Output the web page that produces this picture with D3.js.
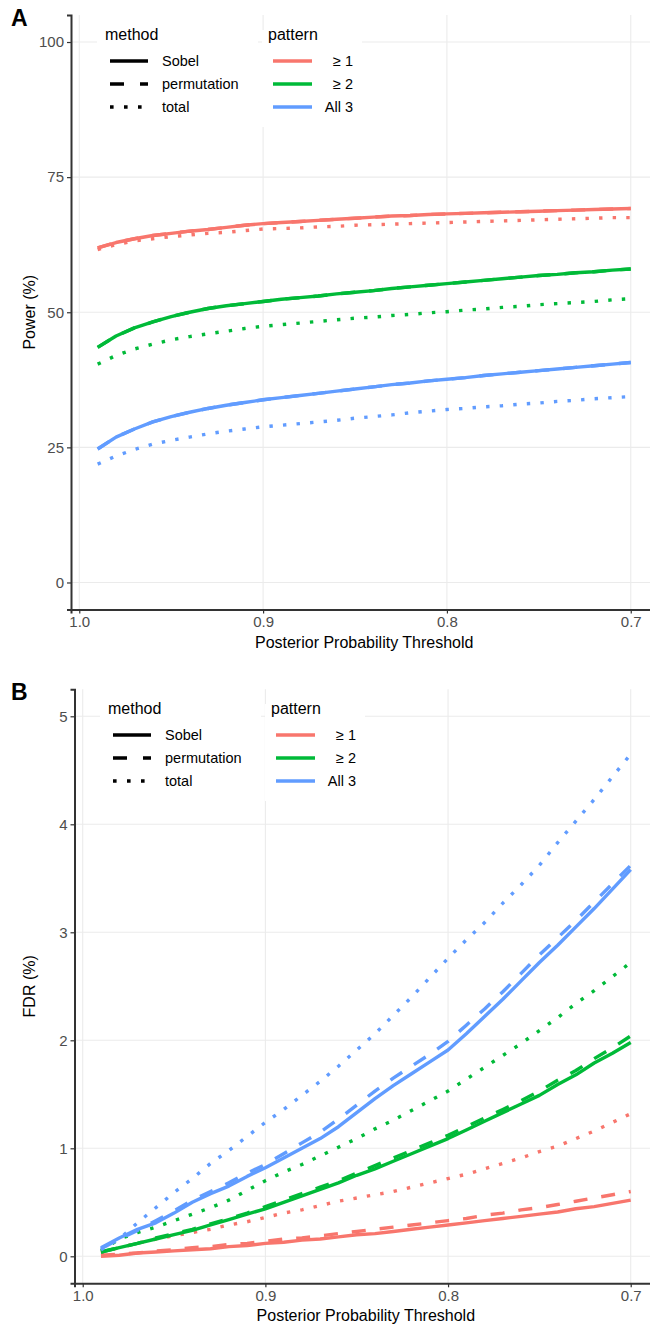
<!DOCTYPE html>
<html lang="en">
<head>
    <meta charset="UTF-8">
    <title>Power and FDR by Posterior Probability Threshold</title>
    <script src="https://d3js.org/d3.v7.min.js"></script>
    <style>
        body { margin: 0; background: #fff; }
        svg { font-family: "Liberation Sans", Arial, sans-serif; display: block; }
        .grid line { stroke: #ebebeb; stroke-width: 1.1; }
        .axis path, .axis line { stroke: #333; }
        .axis text { fill: #4d4d4d; font-size: 15px; }
        .line { fill: none; stroke-width: 3.4; stroke-linecap: butt; stroke-linejoin: round; }
    </style>
</head>
<body>
<div id="chart"></div>
<script>
    // thresholds from 0.99 down to 0.70
    const thresholds = [0.99, 0.98, 0.97, 0.96, 0.95, 0.94, 0.93, 0.92, 0.91, 0.90,
                        0.89, 0.88, 0.87, 0.86, 0.85, 0.84, 0.83, 0.82, 0.81, 0.80,
                        0.79, 0.78, 0.77, 0.76, 0.75, 0.74, 0.73, 0.72, 0.71, 0.70];

    const methods = ["Sobel", "permutation", "total"];
    const patterns = ["\u2265 1", "\u2265 2", "All 3"];
    const patternColors = ["#F8766D", "#00BA38", "#619CFF"];
    const xTicks = [1.0, 0.9, 0.8, 0.7];
    const powerTicks = [0, 25, 50, 75, 100];
    const fdrTicks = [0, 1, 2, 3, 4, 5];

    // Panel A: power (%)
    const powerSobel1 = [61.9, 62.9, 63.6, 64.2, 64.6, 65.0, 65.3, 65.7, 66.1, 66.4, 66.6, 66.8, 67.0, 67.2, 67.4, 67.6, 67.8, 67.9, 68.1, 68.2, 68.3, 68.4, 68.5, 68.6, 68.7, 68.8, 68.9, 69.0, 69.1, 69.2];
    const powerPerm1  = [61.9, 62.9, 63.6, 64.2, 64.6, 65.0, 65.3, 65.7, 66.1, 66.4, 66.6, 66.8, 67.0, 67.2, 67.4, 67.6, 67.8, 67.9, 68.1, 68.2, 68.3, 68.4, 68.5, 68.6, 68.7, 68.8, 68.9, 69.0, 69.1, 69.2];
    const powerTotal1 = [61.6, 62.5, 63.2, 63.6, 64.0, 64.3, 64.6, 64.8, 65.1, 65.4, 65.5, 65.6, 65.8, 65.9, 66.1, 66.2, 66.3, 66.4, 66.5, 66.6, 66.7, 66.8, 66.9, 67.0, 67.1, 67.2, 67.3, 67.4, 67.5, 67.5];
    const powerSobel2 = [43.5, 45.6, 47.1, 48.2, 49.2, 50.0, 50.7, 51.2, 51.6, 52.0, 52.4, 52.7, 53.0, 53.4, 53.7, 54.0, 54.4, 54.7, 55.0, 55.3, 55.6, 55.9, 56.2, 56.5, 56.8, 57.0, 57.3, 57.5, 57.8, 58.0];
    const powerPerm2  = [43.5, 45.6, 47.1, 48.2, 49.2, 50.0, 50.7, 51.2, 51.6, 52.0, 52.4, 52.7, 53.0, 53.4, 53.7, 54.0, 54.4, 54.7, 55.0, 55.3, 55.6, 55.9, 56.2, 56.5, 56.8, 57.0, 57.3, 57.5, 57.8, 58.0];
    const powerTotal2 = [40.4, 42.0, 43.2, 44.1, 44.9, 45.5, 46.0, 46.5, 47.0, 47.4, 47.7, 48.0, 48.3, 48.6, 48.9, 49.1, 49.4, 49.6, 49.9, 50.1, 50.4, 50.6, 50.9, 51.1, 51.4, 51.6, 51.8, 52.0, 52.3, 52.5];
    const powerSobel3 = [24.7, 26.9, 28.4, 29.7, 30.7, 31.5, 32.2, 32.8, 33.3, 33.8, 34.2, 34.6, 35.0, 35.4, 35.8, 36.2, 36.6, 36.9, 37.3, 37.6, 37.9, 38.3, 38.6, 38.9, 39.2, 39.5, 39.8, 40.1, 40.4, 40.7];
    const powerPerm3  = [24.7, 26.9, 28.4, 29.7, 30.7, 31.5, 32.2, 32.8, 33.3, 33.8, 34.2, 34.6, 35.0, 35.4, 35.8, 36.2, 36.6, 36.9, 37.3, 37.6, 37.9, 38.3, 38.6, 38.9, 39.2, 39.5, 39.8, 40.1, 40.4, 40.7];
    const powerTotal3 = [21.9, 23.4, 24.6, 25.6, 26.3, 26.9, 27.5, 28.0, 28.4, 28.8, 29.1, 29.4, 29.7, 30.0, 30.4, 30.7, 31.0, 31.4, 31.7, 32.0, 32.2, 32.5, 32.7, 33.0, 33.2, 33.5, 33.7, 34.0, 34.2, 34.4];

    // Panel B: FDR (%)
    const fdrSobel1 = [0.00, 0.01, 0.03, 0.04, 0.05, 0.06, 0.07, 0.09, 0.10, 0.12, 0.13, 0.15, 0.16, 0.18, 0.20, 0.21, 0.23, 0.25, 0.27, 0.29, 0.31, 0.33, 0.35, 0.37, 0.39, 0.41, 0.44, 0.46, 0.49, 0.52];
    const fdrPerm1  = [0.01, 0.02, 0.03, 0.05, 0.06, 0.08, 0.09, 0.11, 0.12, 0.14, 0.16, 0.17, 0.19, 0.21, 0.23, 0.25, 0.27, 0.29, 0.31, 0.33, 0.35, 0.38, 0.40, 0.43, 0.45, 0.48, 0.51, 0.54, 0.57, 0.60];
    const fdrTotal1 = [0.03, 0.08, 0.12, 0.16, 0.19, 0.22, 0.25, 0.29, 0.32, 0.36, 0.40, 0.43, 0.47, 0.51, 0.54, 0.57, 0.60, 0.64, 0.68, 0.72, 0.76, 0.81, 0.86, 0.91, 0.97, 1.02, 1.09, 1.16, 1.24, 1.32];
    const fdrSobel2 = [0.04, 0.08, 0.12, 0.16, 0.20, 0.24, 0.29, 0.34, 0.39, 0.44, 0.50, 0.56, 0.62, 0.68, 0.75, 0.81, 0.88, 0.95, 1.02, 1.09, 1.17, 1.25, 1.33, 1.41, 1.49, 1.59, 1.68, 1.79, 1.88, 1.98];
    const fdrPerm2  = [0.04, 0.08, 0.12, 0.17, 0.21, 0.25, 0.30, 0.35, 0.40, 0.46, 0.52, 0.58, 0.64, 0.70, 0.77, 0.84, 0.91, 0.98, 1.05, 1.12, 1.20, 1.28, 1.36, 1.44, 1.53, 1.63, 1.72, 1.83, 1.93, 2.04];
    const fdrTotal2 = [0.05, 0.16, 0.22, 0.27, 0.33, 0.39, 0.45, 0.52, 0.61, 0.70, 0.78, 0.85, 0.93, 1.01, 1.09, 1.18, 1.26, 1.35, 1.44, 1.53, 1.64, 1.75, 1.86, 1.97, 2.09, 2.21, 2.34, 2.46, 2.59, 2.72];
    const fdrSobel3 = [0.08, 0.17, 0.25, 0.31, 0.40, 0.50, 0.58, 0.65, 0.74, 0.82, 0.91, 1.00, 1.09, 1.20, 1.33, 1.46, 1.58, 1.69, 1.80, 1.91, 2.06, 2.22, 2.38, 2.55, 2.72, 2.88, 3.05, 3.22, 3.40, 3.58];
    const fdrPerm3  = [0.07, 0.16, 0.24, 0.33, 0.42, 0.52, 0.60, 0.68, 0.77, 0.85, 0.95, 1.05, 1.15, 1.27, 1.40, 1.53, 1.65, 1.76, 1.87, 1.99, 2.14, 2.29, 2.45, 2.62, 2.79, 2.95, 3.11, 3.28, 3.45, 3.62];
    const fdrTotal3 = [0.06, 0.16, 0.31, 0.45, 0.59, 0.72, 0.86, 0.98, 1.11, 1.24, 1.36, 1.49, 1.62, 1.76, 1.91, 2.06, 2.23, 2.40, 2.58, 2.76, 2.93, 3.09, 3.27, 3.44, 3.62, 3.83, 4.03, 4.23, 4.44, 4.65];

    const dashes = { "Sobel": null, "permutation": "14,14", "total": "3.4,10.2" };

    const svg = d3.select("#chart").append("svg")
        .attr("width", 650)
        .attr("height", 1327);

    function drawPanel(cfg) {
        const g = svg.append("g");
        const x = d3.scaleLinear().domain([1.0045, 0.6855]).range([cfg.left, cfg.right]);
        const y = d3.scaleLinear().domain(cfg.yDomain).range([cfg.bottom, cfg.top]);

        // grid
        const grid = g.append("g").attr("class", "grid");
        grid.selectAll(".gx").data(xTicks).enter().append("line")
            .attr("x1", d => x(d)).attr("x2", d => x(d))
            .attr("y1", cfg.top).attr("y2", cfg.bottom);
        grid.selectAll(".gy").data(cfg.yTicks).enter().append("line")
            .attr("x1", cfg.left).attr("x2", cfg.right)
            .attr("y1", d => y(d)).attr("y2", d => y(d));

        // legend backgrounds (hide grid like ggplot)
        g.append("rect").attr("x", cfg.legX).attr("y", cfg.legY)
            .attr("width", 161).attr("height", 97).attr("fill", "#fff");
        g.append("rect").attr("x", cfg.legX + 165).attr("y", cfg.legY)
            .attr("width", 100).attr("height", 97).attr("fill", "#fff");

        // lines
        const line = d3.line().x(d => x(d.t)).y(d => y(d.v));
        cfg.series.forEach(s => {
            const pts = thresholds.map((t, i) => ({ t: t, v: s.values[i] }));
            g.append("path").datum(pts)
                .attr("class", "line")
                .attr("stroke", patternColors[s.pattern])
                .attr("stroke-dasharray", dashes[s.method])
                .attr("d", line);
        });

        // axes
        g.append("g").attr("class", "axis")
            .attr("transform", `translate(0,${cfg.bottom})`)
            .call(d3.axisBottom(x).tickValues(xTicks).tickFormat(d3.format(".1f")).tickSize(4).tickPadding(3))
            .call(a => a.select(".domain").attr("stroke-width", 2))
            .call(a => a.selectAll(".tick line").attr("stroke-width", 1.2));
        g.append("g").attr("class", "axis")
            .attr("transform", `translate(${cfg.left},0)`)
            .call(d3.axisLeft(y).tickValues(cfg.yTicks).tickFormat(d3.format("d")).tickSize(4).tickPadding(3))
            .call(a => a.select(".domain").attr("stroke-width", 2))
            .call(a => a.selectAll(".tick line").attr("stroke-width", 1.2));

        // titles
        g.append("text")
            .attr("x", (cfg.left + cfg.right) / 2)
            .attr("y", cfg.bottom + 38)
            .attr("text-anchor", "middle")
            .attr("font-size", 16)
            .text("Posterior Probability Threshold");
        g.append("text")
            .attr("transform", `translate(35,${(cfg.top + cfg.bottom) / 2}) rotate(-90)`)
            .attr("text-anchor", "middle")
            .attr("font-size", 16)
            .text(cfg.yLabel);
        g.append("text")
            .attr("x", 11).attr("y", cfg.top + 11)
            .attr("font-size", 23).attr("font-weight", "bold")
            .text(cfg.letter);

        // legend: method
        const lx = cfg.legX, ly = cfg.legY;
        g.append("text").attr("x", lx + 8).attr("y", ly + 10).attr("font-size", 16).text("method");
        methods.forEach((m, i) => {
            const yy = ly + 31 + i * 23;
            g.append("line")
                .attr("x1", lx + 13).attr("x2", lx + 51)
                .attr("y1", yy).attr("y2", yy)
                .attr("stroke", "#000").attr("stroke-width", 3.6)
                .attr("stroke-dasharray", m === "permutation" ? "14,16" : m === "total" ? "3.6,10.4" : null);
            g.append("text").attr("x", lx + 65).attr("y", yy + 5).attr("font-size", 14.5).text(m);
        });
        // legend: pattern
        g.append("text").attr("x", lx + 171).attr("y", ly + 10).attr("font-size", 16).text("pattern");
        patterns.forEach((p, i) => {
            const yy = ly + 31 + i * 23;
            g.append("line")
                .attr("x1", lx + 176).attr("x2", lx + 215)
                .attr("y1", yy).attr("y2", yy)
                .attr("stroke", patternColors[i]).attr("stroke-width", 3.6);
            g.append("text").attr("x", lx + 256).attr("y", yy + 5)
                .attr("text-anchor", "end").attr("font-size", 14.5).text(p);
        });
    }

    drawPanel({
        letter: "A", yLabel: "Power (%)",
        left: 71, right: 657.4, top: 15, bottom: 609.5,
        yDomain: [-5, 105], yTicks: powerTicks,
        legX: 97, legY: 30,
        series: [
            { pattern: 0, method: "permutation", values: powerPerm1 },
            { pattern: 0, method: "Sobel", values: powerSobel1 },
            { pattern: 0, method: "total", values: powerTotal1 },
            { pattern: 1, method: "permutation", values: powerPerm2 },
            { pattern: 1, method: "Sobel", values: powerSobel2 },
            { pattern: 1, method: "total", values: powerTotal2 },
            { pattern: 2, method: "permutation", values: powerPerm3 },
            { pattern: 2, method: "Sobel", values: powerSobel3 },
            { pattern: 2, method: "total", values: powerTotal3 }
        ]
    });

    drawPanel({
        letter: "B", yLabel: "FDR (%)",
        left: 74.5, right: 657.2, top: 689.3, bottom: 1283.3,
        yDomain: [-0.25, 5.25], yTicks: fdrTicks,
        legX: 100, legY: 704,
        series: [
            { pattern: 0, method: "Sobel", values: fdrSobel1 },
            { pattern: 0, method: "permutation", values: fdrPerm1 },
            { pattern: 0, method: "total", values: fdrTotal1 },
            { pattern: 1, method: "Sobel", values: fdrSobel2 },
            { pattern: 1, method: "permutation", values: fdrPerm2 },
            { pattern: 1, method: "total", values: fdrTotal2 },
            { pattern: 2, method: "Sobel", values: fdrSobel3 },
            { pattern: 2, method: "permutation", values: fdrPerm3 },
            { pattern: 2, method: "total", values: fdrTotal3 }
        ]
    });
</script>
</body>
</html>
